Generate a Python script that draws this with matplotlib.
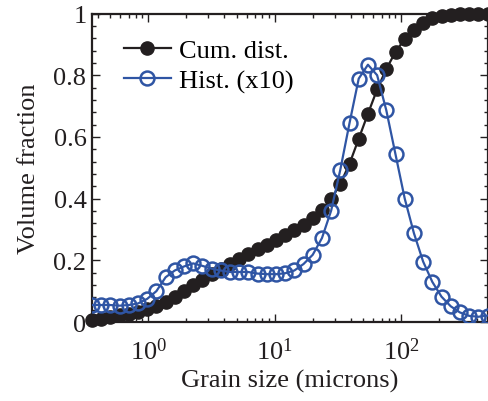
import matplotlib
matplotlib.use("Agg")
import matplotlib.pyplot as plt
from matplotlib.ticker import LogLocator, LogFormatterMathtext, MultipleLocator, NullFormatter

plt.rcParams["font.family"] = ["Liberation Serif", "DejaVu Serif"]
plt.rcParams["mathtext.fontset"] = "custom"
plt.rcParams["mathtext.rm"] = "Liberation Serif"
plt.rcParams["mathtext.it"] = "Liberation Serif:italic"

# grain size bins (microns)
grain_size = [0.360, 0.426, 0.503, 0.595, 0.703, 0.831, 0.983, 1.162, 1.374, 1.624,
              1.920, 2.270, 2.684, 3.172, 3.751, 4.434, 5.242, 6.197, 7.326, 8.662,
              10.24, 12.11, 14.31, 16.92, 20.00, 23.65, 27.96, 33.05, 39.07, 46.19,
              54.61, 64.57, 76.33, 90.24, 106.7, 126.1, 149.1, 176.3, 208.4, 246.4,
              291.3, 344.4, 407.1, 481.3]

# cumulative volume fraction
cum_dist = [0.006, 0.011, 0.016, 0.022, 0.027, 0.033, 0.041, 0.051, 0.065, 0.082,
            0.100, 0.119, 0.137, 0.155, 0.171, 0.188, 0.204, 0.220, 0.236, 0.251,
            0.267, 0.283, 0.299, 0.316, 0.337, 0.362, 0.398, 0.448, 0.513, 0.594,
            0.675, 0.754, 0.820, 0.876, 0.917, 0.948, 0.970, 0.984, 0.992, 0.996,
            0.998, 0.999, 1.000, 1.000]

# histogram (x10)
hist_x10 = [0.055, 0.055, 0.055, 0.053, 0.055, 0.060, 0.075, 0.100, 0.145, 0.167,
            0.180, 0.190, 0.182, 0.173, 0.167, 0.162, 0.162, 0.162, 0.157, 0.155,
            0.155, 0.158, 0.167, 0.188, 0.218, 0.272, 0.361, 0.494, 0.645, 0.789,
            0.834, 0.800, 0.686, 0.543, 0.400, 0.288, 0.196, 0.130, 0.082, 0.051,
            0.031, 0.020, 0.017, 0.021]

black = "#231f20"
blue = "#2f55a4"
fs = 19

fig = plt.figure(figsize=(4.88, 4.02), dpi=100)
ax = fig.add_axes([0.1885, 0.1965, 0.8105, 0.7674])

ax.plot(grain_size, cum_dist, "-o", color=black, lw=1.6, ms=9.5,
        mfc=black, mec=black, label="Cum. dist.", clip_on=False, zorder=3)
ax.plot(grain_size, hist_x10, "-o", color=blue, lw=1.6, ms=10, mew=1.8,
        mfc="none", mec=blue, label="Hist. (x10)", zorder=4)

ax.set_xscale("log")
ax.set_xlim(grain_size[0], grain_size[-1])
ax.set_ylim(0, 1)

ax.xaxis.set_major_locator(LogLocator(base=10, numticks=10))
ax.xaxis.set_major_formatter(LogFormatterMathtext())
ax.xaxis.set_minor_locator(LogLocator(base=10, subs=range(2, 10), numticks=10))
ax.xaxis.set_minor_formatter(NullFormatter())
ax.yaxis.set_minor_locator(MultipleLocator(0.04))
ax.set_yticks([0, 0.2, 0.4, 0.6, 0.8, 1])
ax.set_yticklabels(["0", "0.2", "0.4", "0.6", "0.8", "1"])

ax.tick_params(which="both", direction="in", top=True, right=True,
               labelsize=fs, width=1.0, colors=black)
ax.tick_params(which="major", length=6)
ax.tick_params(which="minor", length=3)
ax.tick_params(axis="x", pad=11)
ax.tick_params(axis="y", pad=4)
for s in ax.spines.values():
    s.set_linewidth(1.6)
    s.set_color(black)

ax.set_xlabel("Grain size (microns)", fontsize=fs, color=black, labelpad=4)
ax.set_ylabel("Volume fraction", fontsize=fs, color=black, labelpad=10)

ax.legend(loc="upper left", frameon=False, fontsize=fs, handlelength=1.8,
          handletextpad=0.3, borderaxespad=0.2, labelspacing=0.25,
          bbox_to_anchor=(0.04, 0.97))

fig.savefig("out.png", dpi=100)
